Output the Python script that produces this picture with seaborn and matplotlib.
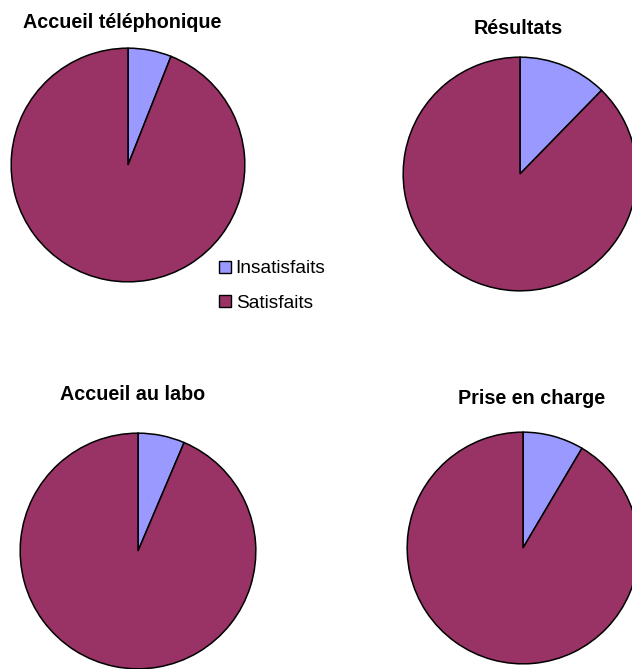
import matplotlib
matplotlib.use("Agg")
import matplotlib.pyplot as plt
from matplotlib.patches import Patch
import seaborn as sns

sns.set_theme(style="white")
plt.rcParams["font.family"] = ["Liberation Sans", "DejaVu Sans"]

# Survey results: share of dissatisfied vs satisfied respondents (%)
categories = ["Insatisfaits", "Satisfaits"]
titles = ["Accueil téléphonique", "Résultats", "Accueil au labo", "Prise en charge"]
insatisfaits = [6.0, 12.3, 6.4, 8.5]
satisfaits = [94.0, 87.7, 93.6, 91.5]
colors = ["#9999FF", "#993366"]

W, H = 632, 669
fig = plt.figure(figsize=(W / 100, H / 100), dpi=100)
fig.patch.set_facecolor("white")

# pie placement in pixels: centre x, centre y (from top), radius
pie_boxes = [(128, 165, 118), (520, 174, 118), (138, 551, 119), (523, 548, 117)]
# title placement in pixels: centre x, centre y (from top)
title_pos = [(122, 22), (518, 28), (133, 395), (532, 399)]

for i, (cx, cy, r) in enumerate(pie_boxes):
    ax = fig.add_axes([(cx - r) / W, (H - cy - r) / H, 2 * r / W, 2 * r / H])
    ax.pie([insatisfaits[i], satisfaits[i]], colors=colors, startangle=90,
           counterclock=False, radius=1,
           wedgeprops=dict(edgecolor="black", linewidth=1.1))
    ax.set_xlim(-1.01, 1.01)
    ax.set_ylim(-1.01, 1.01)
    ax.set_aspect("equal")
    ax.axis("off")
    tx, ty = title_pos[i]
    fig.text(tx / W, 1 - ty / H, titles[i], ha="center", va="center",
             fontsize=14.2, fontweight="bold", color="black")

handles = [Patch(facecolor=c, edgecolor="black", linewidth=1.0) for c in colors]
fig.legend(handles, categories, loc="upper left",
           bbox_to_anchor=(206 / W, 1 - 247 / H), frameon=False,
           fontsize=13.8, labelcolor="black", handlelength=0.6, handleheight=0.6,
           handletextpad=0.25, labelspacing=0.92, borderpad=0.2)

fig.savefig("out.png", dpi=100, facecolor="white")
